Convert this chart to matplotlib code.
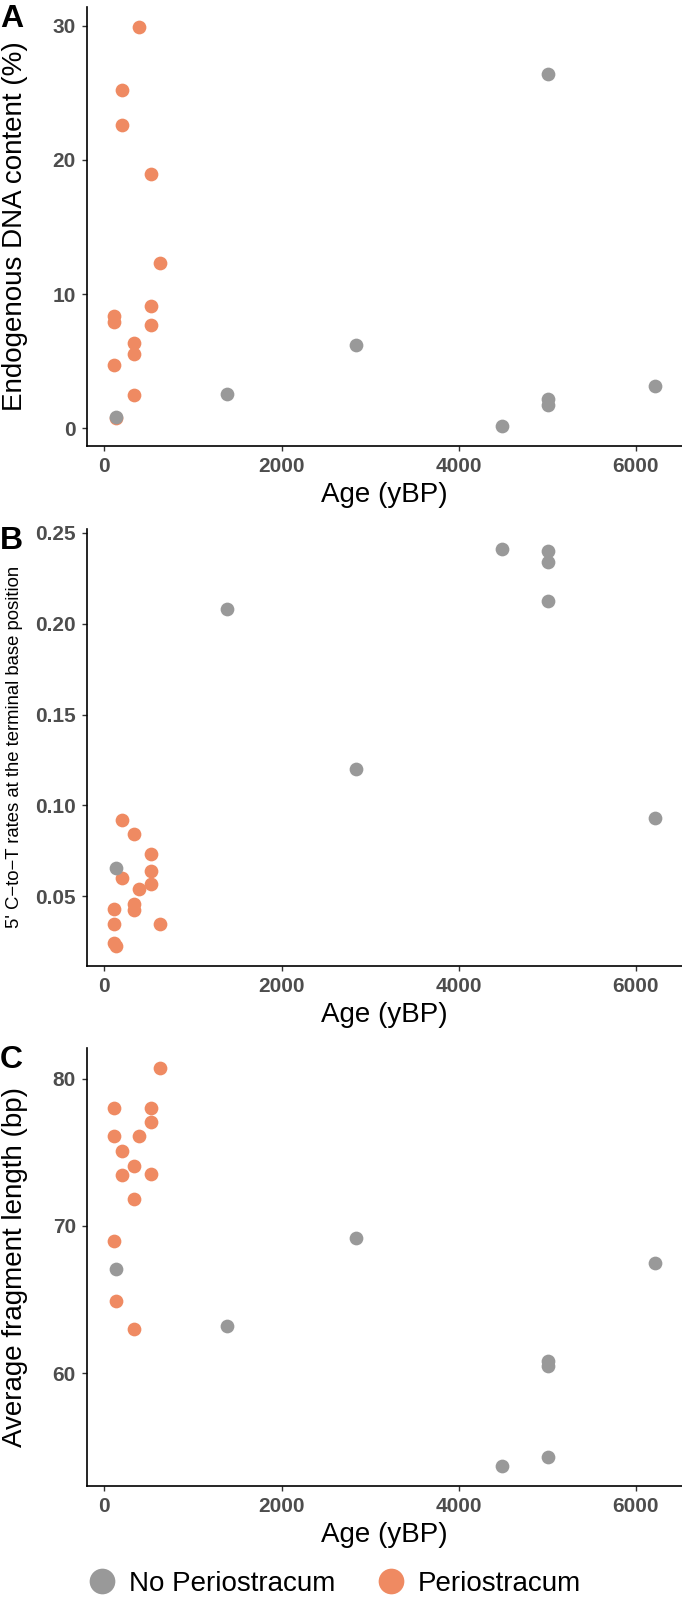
import matplotlib
matplotlib.use("Agg")
import matplotlib.pyplot as plt
from matplotlib.lines import Line2D
import numpy as np

plt.rcParams['font.family'] = ['Liberation Sans', 'DejaVu Sans']

# ---------------- data ----------------
groups = ["No Periostracum", "Periostracum"]
colors = {"No Periostracum": "#999999", "Periostracum": "#EF8A62"}

# Periostracum samples
peri_age = [110, 110, 110, 132, 203, 203, 338, 338, 338, 396, 525, 525, 525, 625]
peri_endo = [8.34, 7.89, 4.73, 0.75, 25.2, 22.6, 6.35, 5.55, 2.46, 29.9, 18.95, 9.09, 7.69, 12.3]
peri_ct = [0.0432, 0.0350, 0.0244, 0.0227, 0.0918, 0.0601, 0.0841, 0.0455, 0.0423, 0.0540, 0.0731, 0.0637, 0.0566, 0.0346]
peri_len = [78.03, 76.09, 68.98, 64.91, 75.07, 73.46, 74.07, 71.81, 63.03, 76.09, 78.03, 77.06, 73.55, 80.72]

# No periostracum samples
nop_age = [132, 1385, 2840, 4494, 5005, 5005, 5005, 6215]
nop_endo = [0.87, 2.56, 6.22, 0.20, 26.36, 2.17, 1.74, 3.19]
nop_ct = [0.0654, 0.2081, 0.1201, 0.2412, 0.2399, 0.2337, 0.2123, 0.0932]
nop_len = [67.06, 63.2, 69.2, 53.73, 60.82, 60.53, 54.31, 67.47]

x_ticks = [0, 2000, 4000, 6000]
panel_letters = ["A", "B", "C"]
y_labels = ["Endogenous DNA content (%)",
            "5' C\u2212to\u2212T rates at the terminal base position",
            "Average fragment length (bp)"]
y_ticks = [[0, 10, 20, 30], [0.05, 0.10, 0.15, 0.20, 0.25], [60, 70, 80]]
y_ticklabels = [["0", "10", "20", "30"], ["0.05", "0.10", "0.15", "0.20", "0.25"], ["60", "70", "80"]]
x_label = "Age (yBP)"

# ---------------- layout ----------------
W, H = 682, 1598
fig = plt.figure(figsize=(W / 100, H / 100), dpi=100)
fig.patch.set_facecolor("white")

left_px = 87
panels_px = [(7, 445.7), (529, 965.7), (1048, 1485.7)]  # top, bottom
ylabel_sizes = [20, 13.3, 20]

peri_vals = [peri_endo, peri_ct, peri_len]
nop_vals = [nop_endo, nop_ct, nop_len]


def expand(vals, frac=0.05):
    lo, hi = min(vals), max(vals)
    d = (hi - lo) * frac
    return lo - d, hi + d


all_age = peri_age + nop_age
xlim = expand(all_age)

tick_color = "#4D4D4D"
for i, (top, bot) in enumerate(panels_px):
    ax = fig.add_axes([left_px / W, 1 - bot / H, (W - left_px) / W, (bot - top) / H])
    ax.scatter(peri_age, peri_vals[i], s=98, color=colors["Periostracum"], linewidths=0, zorder=3)
    ax.scatter(nop_age, nop_vals[i], s=98, color=colors["No Periostracum"], linewidths=0, zorder=4)
    ax.set_xlim(*xlim)
    ax.set_ylim(*expand(peri_vals[i] + nop_vals[i]))
    ax.set_xticks(x_ticks)
    ax.set_xticklabels([str(t) for t in x_ticks])
    ax.set_yticks(y_ticks[i])
    ax.set_yticklabels(y_ticklabels[i])
    for s in ["top", "right"]:
        ax.spines[s].set_visible(False)
    for s in ["left", "bottom"]:
        ax.spines[s].set_linewidth(1.2)
        ax.spines[s].set_color("black")
    ax.tick_params(axis="both", length=3.6, width=1.0, color="#333333",
                   labelsize=15, labelcolor=tick_color, pad=4.5)
    for lab in ax.get_xticklabels() + ax.get_yticklabels():
        lab.set_fontweight("bold")
    ax.set_xlabel(x_label, fontsize=20, va="baseline")
    ax.xaxis.set_label_coords(0.5, -56 / (bot - top))
    ax.set_ylabel(y_labels[i], fontsize=ylabel_sizes[i], ha="center", va="center")
    ax.yaxis.set_label_coords((15 - left_px) / (W - left_px), 0.5)
    fig.text(0.0, 1 - (top + 20) / H, panel_letters[i], fontsize=23,
             fontweight="bold", ha="left", va="baseline")

handles = [Line2D([0], [0], marker="o", linestyle="none", markersize=18.5,
                  markerfacecolor=colors[g], markeredgewidth=0) for g in groups]
fig.legend(handles, groups, loc="center", bbox_to_anchor=(334.5 / W, 1 - 1584 / H),
           ncol=2, frameon=False, fontsize=20, handlelength=1.0,
           handletextpad=0.47, columnspacing=1.5, borderpad=0, borderaxespad=0)

fig.savefig("out.png", dpi=100, facecolor="white")
